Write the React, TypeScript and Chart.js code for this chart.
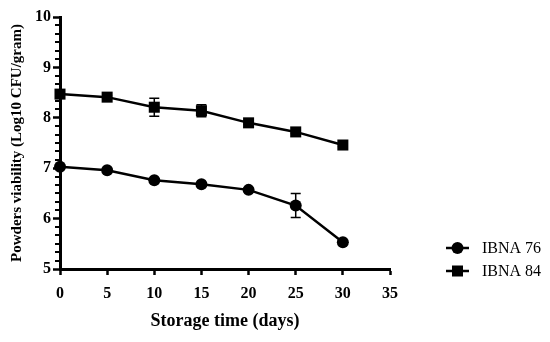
import React, { useEffect, useRef } from "react";
import { Chart, registerables } from "chart.js";

Chart.register(...registerables);

const days = [0, 5, 10, 15, 20, 25, 30];
const ibna76 = [7.03, 6.96, 6.76, 6.68, 6.57, 6.26, 5.53];
const ibna76Err = [0.03, 0.03, 0.03, 0.03, 0.03, 0.24, 0.03];
const ibna84 = [8.47, 8.41, 8.21, 8.14, 7.9, 7.72, 7.46];
const ibna84Err = [0.03, 0.03, 0.18, 0.12, 0.03, 0.03, 0.03];
const seriesNames = ["IBNA 76", "IBNA 84"];
const xTitle = "Storage time (days)";
const yTitle = "Powders viability (Log10 CFU/gram)";

const FONT = "'Liberation Serif', 'Times New Roman', serif";

const errorBarPlugin = {
  id: "errorBars",
  beforeDatasetsDraw(chart: any) {
    const ctx = chart.ctx;
    const xs = chart.scales.x;
    const ys = chart.scales.y;
    const errs = [ibna76Err, ibna84Err];
    ctx.save();
    ctx.strokeStyle = "#000";
    ctx.lineWidth = 1.5;
    chart.data.datasets.forEach((ds: any, i: number) => {
      ds.data.forEach((p: any, j: number) => {
        const e = errs[i][j];
        const x = xs.getPixelForValue(p.x);
        const y1 = ys.getPixelForValue(p.y + e);
        const y2 = ys.getPixelForValue(p.y - e);
        ctx.beginPath();
        ctx.moveTo(x, y1);
        ctx.lineTo(x, y2);
        ctx.moveTo(x - 5, y1);
        ctx.lineTo(x + 5, y1);
        ctx.moveTo(x - 5, y2);
        ctx.lineTo(x + 5, y2);
        ctx.stroke();
      });
    });
    ctx.restore();
  },
};

const minorTickPlugin = {
  id: "minorTicks",
  afterDraw(chart: any) {
    const ctx = chart.ctx;
    const ys = chart.scales.y;
    const left = chart.chartArea.left;
    ctx.save();
    ctx.strokeStyle = "#000";
    ctx.lineWidth = 2;
    for (let k = 0; k <= 30; k++) {
      if (k % 6 === 0) continue;
      const v = 5 + k / 6;
      const y = Math.round(ys.getPixelForValue(v));
      ctx.beginPath();
      ctx.moveTo(left - 5, y);
      ctx.lineTo(left, y);
      ctx.stroke();
    }
    ctx.restore();
  },
};

const legendPlugin = {
  id: "customLegend",
  afterDraw(chart: any) {
    const ctx = chart.ctx;
    const x0 = chart.chartArea.right + 56;
    const rows = [248, 271];
    ctx.save();
    seriesNames.forEach((name, i) => {
      const y = rows[i];
      ctx.strokeStyle = "#000";
      ctx.fillStyle = "#000";
      ctx.lineWidth = 2.5;
      ctx.beginPath();
      ctx.moveTo(x0, y);
      ctx.lineTo(x0 + 23, y);
      ctx.stroke();
      ctx.beginPath();
      if (i === 0) {
        ctx.arc(x0 + 11.5, y, 6, 0, Math.PI * 2);
        ctx.fill();
      } else {
        ctx.fillRect(x0 + 11.5 - 5.5, y - 5.5, 11, 11);
      }
      ctx.font = `16px ${FONT}`;
      ctx.textBaseline = "middle";
      ctx.textAlign = "left";
      ctx.fillText(name, x0 + 36, y + 1);
    });
    ctx.restore();
  },
};

export default function App() {
  const ref = useRef<HTMLCanvasElement>(null);
  useEffect(() => {
    document.body.style.margin = "0";
    const canvas = ref.current!;
    const mk = (vals: number[]) => days.map((d, i) => ({ x: d, y: vals[i] }));
    const chart = new Chart(canvas, {
      type: "line",
      data: {
        datasets: [
          {
            label: seriesNames[0],
            data: mk(ibna76),
            borderColor: "#000",
            backgroundColor: "#000",
            borderWidth: 2.5,
            pointStyle: "circle",
            pointRadius: 6,
            pointBorderWidth: 0,
            clip: false as any,
          },
          {
            label: seriesNames[1],
            data: mk(ibna84),
            borderColor: "#000",
            backgroundColor: "#000",
            borderWidth: 2.5,
            pointStyle: "rect",
            pointRadius: 7.8,
            pointBorderWidth: 0,
            clip: false as any,
          },
        ],
      },
      options: {
        animation: false,
        responsive: false,
        devicePixelRatio: 1,
        layout: { padding: { left: 0, top: 17, right: 160, bottom: 0 } },
        plugins: { legend: { display: false }, tooltip: { enabled: false } },
        scales: {
          x: {
            type: "linear",
            min: 0,
            max: 35,
            afterFit(s: any) {
              s.height = 73;
            },
            ticks: {
              stepSize: 5,
              color: "#000",
              padding: 9,
              font: { family: FONT, size: 16, weight: "bold" },
            },
            grid: {
              display: true,
              drawOnChartArea: false,
              drawTicks: true,
              tickLength: 6,
              tickColor: "#000",
              tickWidth: 2.5,
            },
            border: { display: true, color: "#000", width: 3 },
            title: {
              display: true,
              text: xTitle,
              color: "#000",
              font: { family: FONT, size: 18, weight: "bold" },
              padding: { top: 0, bottom: 10 },
            },
          },
          y: {
            type: "linear",
            min: 5,
            max: 10,
            afterFit(s: any) {
              s.width = 60;
            },
            ticks: {
              stepSize: 1,
              color: "#000",
              padding: 2,
              font: { family: FONT, size: 16, weight: "bold" },
            },
            grid: {
              display: true,
              drawOnChartArea: false,
              drawTicks: true,
              tickLength: 7,
              tickColor: "#000",
              tickWidth: 2.5,
            },
            border: { display: true, color: "#000", width: 3 },
            title: {
              display: true,
              text: yTitle,
              color: "#000",
              font: { family: FONT, size: 15, weight: "bold" },
              padding: { top: 8, bottom: 0 },
            },
          },
        },
      },
      plugins: [errorBarPlugin, minorTickPlugin, legendPlugin],
    });
    return () => chart.destroy();
  }, []);
  return <canvas ref={ref} width={550} height={342} style={{ display: "block" }} />;
}
